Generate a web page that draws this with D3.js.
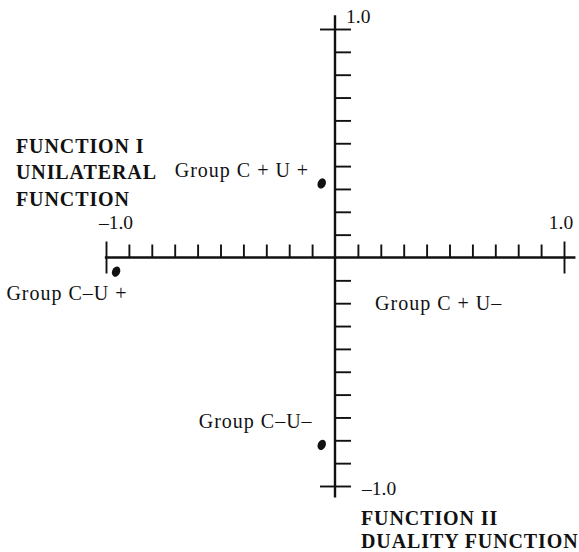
<!DOCTYPE html>
<html>
<head>
<meta charset="utf-8">
<script src="https://cdn.jsdelivr.net/npm/d3@7"></script>
<style>
  body { margin: 0; background: #fff; }
  svg { display: block; }
  text { font-family: "Liberation Serif", "Times New Roman", serif; fill: #111; }
  .cap { font-size: 20px; font-weight: bold; letter-spacing: 0.9px; }
  .grp { font-size: 20px; letter-spacing: 1px; }
  .tick-lab { font-size: 19.5px; }
  .axis-line { stroke: #111; stroke-width: 2.4; }
  .tick line { stroke: #111; stroke-width: 1.9; }
</style>
</head>
<body>
<svg id="chart" width="579" height="552"></svg>
<script>
'use strict';

// group centroids (function I = x, function II = y)
const groups = ['Group C+U+', 'Group C–U+', 'Group C–U–'];
const fnI = [-0.058, -0.956, -0.058];
const fnII = [0.324, -0.062, -0.82];

// label text and where it sits, in function units
const labelText = ['Group C + U +', 'Group C–U +', 'Group C + U–', 'Group C–U–'];
const labelX = [-0.70, -1.435, 0.175, -0.595];
const labelY = [0.353, -0.187, -0.23, -0.748];

const tickStep = [-0.9, -0.8, -0.7, -0.6, -0.5, -0.4, -0.3, -0.2, -0.1,
                  0.1, 0.2, 0.3, 0.4, 0.5, 0.6, 0.7, 0.8, 0.9];
const endTicks = [-1, 1];
const endLabels = ['–1.0', '1.0'];

const svg = d3.select('#chart');

const x = d3.scaleLinear().domain([-1, 1]).range([106, 564]);
const y = d3.scaleLinear().domain([-1, 1]).range([486, 29]);

const x0 = x(0), y0 = y(0);

// axis lines
svg.append('line').attr('class', 'axis-line')
   .attr('x1', x(-1.005)).attr('x2', x(1.05)).attr('y1', y0).attr('y2', y0);
svg.append('line').attr('class', 'axis-line')
   .attr('x1', x0).attr('x2', x0).attr('y1', y(1.06)).attr('y2', y(-1.05));

// small ticks on horizontal axis, pointing up
svg.append('g').attr('transform', `translate(0,${y0})`)
   .call(d3.axisTop(x).tickValues(tickStep).tickSize(13).tickFormat(''))
   .call(g => g.select('.domain').remove());
// end crosses
svg.append('g').attr('transform', `translate(0,${y0})`)
   .call(d3.axisTop(x).tickValues(endTicks).tickSize(16).tickFormat(''))
   .call(g => g.select('.domain').remove());
svg.append('g').attr('transform', `translate(0,${y0})`)
   .call(d3.axisBottom(x).tickValues(endTicks).tickSize(16).tickFormat(''))
   .call(g => g.select('.domain').remove());

// ticks on vertical axis, pointing right
svg.append('g').attr('transform', `translate(${x0},0)`)
   .call(d3.axisRight(y).tickValues(tickStep).tickSize(16).tickFormat(''))
   .call(g => g.select('.domain').remove());
svg.append('g').attr('transform', `translate(${x0},0)`)
   .call(d3.axisRight(y).tickValues(endTicks).tickSize(16).tickFormat(''))
   .call(g => g.select('.domain').remove());
svg.append('g').attr('transform', `translate(${x0},0)`)
   .call(d3.axisLeft(y).tickValues(endTicks).tickSize(15).tickFormat(''))
   .call(g => g.select('.domain').remove());

// end labels
endTicks.forEach((v, i) => {
  svg.append('text').attr('class', 'tick-lab')
     .attr('x', x(v) + (v < 0 ? 10 : -3)).attr('y', y0 - 29)
     .attr('text-anchor', 'middle').text(endLabels[i]);
});
svg.append('text').attr('class', 'tick-lab')
   .attr('x', x0 + 11).attr('y', y(1) - 6).text('1.0');
svg.append('text').attr('class', 'tick-lab')
   .attr('x', x0 + 27).attr('y', y(-1) + 9).text('–1.0');

// function titles
[['FUNCTION I', 153], ['UNILATERAL', 179], ['FUNCTION', 206]].forEach(d => {
  svg.append('text').attr('class', 'cap').attr('x', 16).attr('y', d[1]).text(d[0]);
});
[['FUNCTION II', 525], ['DUALITY FUNCTION', 548]].forEach(d => {
  svg.append('text').attr('class', 'cap').attr('x', x0 + 26).attr('y', d[1]).text(d[0]);
});

// group points
svg.append('g').selectAll('ellipse')
   .data(groups)
   .join('ellipse')
   .attr('rx', 4)
   .attr('ry', 5.3)
   .attr('transform', (d, i) => `translate(${x(fnI[i])},${y(fnII[i])}) rotate(25)`)
   .attr('fill', '#111');

// group labels
svg.append('g').selectAll('text')
   .data(labelText)
   .join('text')
   .attr('class', 'grp')
   .attr('x', (d, i) => x(labelX[i]))
   .attr('y', (d, i) => y(labelY[i]))
   .text(d => d);
</script>
</body>
</html>
